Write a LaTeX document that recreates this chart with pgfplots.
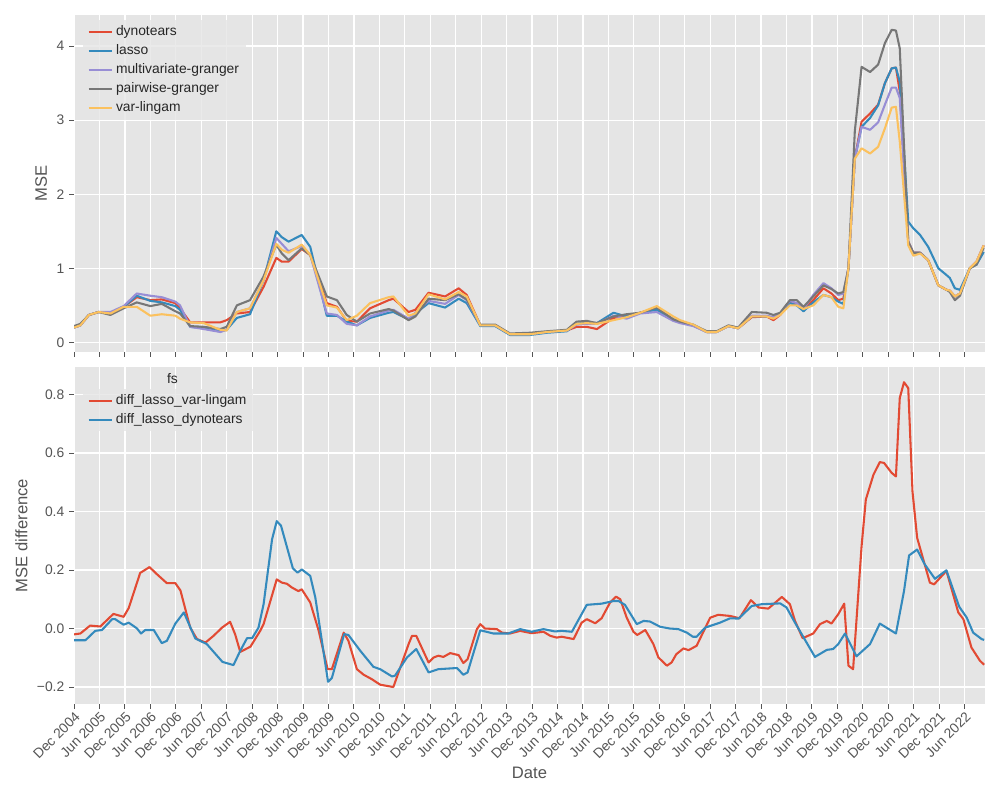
\documentclass[border=0pt]{standalone}
\usepackage{pgfplots}
\usepackage{pgfplotstable}
\pgfplotsset{compat=1.18}
\usepackage{fontspec}
\setmainfont{Liberation Sans}
\definecolor{cRed}{HTML}{E24A33}
\definecolor{cBlue}{HTML}{348ABD}
\definecolor{cPurple}{HTML}{988ED5}
\definecolor{cGray}{HTML}{777777}
\definecolor{cYellow}{HTML}{FBC15E}
\definecolor{ggbg}{HTML}{E5E5E5}
\definecolor{tk}{HTML}{555555}

\pgfplotstableread{
m red blue purple gray yellow
0 0.20 0.20 0.20 0.22 0.20
1.5 0.23 0.23 0.23 0.25 0.23
3.5 0.37 0.37 0.37 0.37 0.37
5.8 0.41 0.41 0.41 0.41 0.41
8.6 0.40 0.40 0.41 0.37 0.39
11.7 0.48 0.48 0.49 0.46 0.48
14.8 0.61 0.63 0.66 0.54 0.48
18 0.57 0.56 0.63 0.49 0.36
20.7 0.58 0.54 0.61 0.52 0.38
23.9 0.53 0.49 0.55 0.42 0.36
25 0.46 0.44 0.50 0.39 0.32
27.4 0.27 0.21 0.21 0.22 0.27
30.6 0.27 0.19 0.18 0.21 0.26
34.5 0.27 0.15 0.14 0.18 0.17
36 0.30 0.17 0.17 0.21 0.16
38.4 0.39 0.33 0.41 0.50 0.41
41.5 0.41 0.38 0.46 0.57 0.46
44.7 0.75 0.84 0.84 0.89 0.84
47.7 1.14 1.50 1.41 1.32 1.33
49 1.09 1.42 1.33 1.20 1.25
50.6 1.09 1.36 1.23 1.11 1.21
53.7 1.26 1.45 1.30 1.27 1.32
55.7 1.18 1.29 1.18 1.18 1.18
59.6 0.53 0.36 0.39 0.62 0.50
62 0.48 0.36 0.37 0.57 0.47
64.3 0.29 0.28 0.25 0.37 0.30
66.7 0.28 0.23 0.23 0.28 0.36
69.8 0.46 0.33 0.35 0.39 0.53
74.2 0.57 0.40 0.43 0.45 0.61
75.3 0.59 0.41 0.44 0.43 0.62
78.9 0.41 0.31 0.32 0.30 0.36
80.5 0.44 0.39 0.40 0.35 0.39
83.6 0.67 0.53 0.56 0.59 0.65
87.5 0.62 0.47 0.52 0.57 0.58
90.7 0.73 0.59 0.64 0.65 0.68
92.6 0.64 0.53 0.57 0.58 0.62
95.8 0.23 0.22 0.23 0.24 0.23
99.3 0.23 0.22 0.23 0.24 0.23
102.8 0.11 0.10 0.11 0.12 0.11
107.5 0.11 0.10 0.11 0.13 0.11
111.5 0.14 0.13 0.14 0.15 0.14
116.2 0.16 0.15 0.16 0.17 0.16
118.5 0.21 0.25 0.24 0.28 0.25
120.9 0.21 0.27 0.25 0.29 0.26
123.3 0.18 0.26 0.25 0.26 0.25
127.2 0.33 0.40 0.36 0.35 0.30
130.3 0.36 0.35 0.32 0.38 0.34
133.5 0.40 0.40 0.39 0.40 0.40
137.4 0.46 0.44 0.41 0.47 0.49
141.3 0.31 0.31 0.29 0.31 0.35
142.9 0.28 0.28 0.26 0.28 0.30
146 0.23 0.23 0.22 0.24 0.24
149.2 0.14 0.14 0.14 0.15 0.14
151.5 0.14 0.14 0.14 0.15 0.14
154.3 0.22 0.22 0.22 0.23 0.22
156.6 0.19 0.19 0.19 0.20 0.19
159.8 0.34 0.35 0.36 0.41 0.35
163.3 0.35 0.35 0.36 0.40 0.35
164.9 0.30 0.33 0.34 0.37 0.32
166.5 0.37 0.39 0.39 0.40 0.37
168.8 0.54 0.53 0.56 0.57 0.50
170.4 0.51 0.50 0.53 0.57 0.50
172 0.45 0.42 0.45 0.48 0.45
174.3 0.57 0.54 0.64 0.62 0.50
176.7 0.73 0.64 0.80 0.77 0.64
178.6 0.66 0.61 0.73 0.72 0.61
180.2 0.57 0.55 0.64 0.66 0.48
181.4 0.59 0.52 0.66 0.68 0.46
182.6 1.0 1.0 1.0 1.0 1.0
184.1 2.48 2.48 2.48 2.85 2.48
185.7 2.98 2.91 2.91 3.72 2.62
187.7 3.09 3.03 2.87 3.65 2.55
189.6 3.21 3.20 2.97 3.75 2.64
191.2 3.50 3.50 3.21 4.04 2.89
192.8 3.70 3.70 3.44 4.22 3.17
193.8 3.71 3.71 3.44 4.21 3.18
194.7 3.39 3.52 3.30 3.97 2.71
196.7 1.36 1.63 1.36 1.36 1.31
197.9 1.21 1.54 1.21 1.21 1.17
199.5 1.21 1.45 1.21 1.21 1.20
201.4 1.11 1.29 1.11 1.11 1.11
203.8 0.77 1.00 0.77 0.77 0.77
205.7 0.71 0.91 0.71 0.71 0.71
206.5 0.70 0.87 0.70 0.68 0.70
207.7 0.62 0.73 0.62 0.57 0.62
208.9 0.66 0.71 0.66 0.63 0.66
211.2 1.0 1.0 1.0 1.0 1.0
212.8 1.09 1.05 1.09 1.05 1.09
214.5 1.31 1.22 1.31 1.28 1.31
}\topdata

\pgfplotstableread{
m v
0 -0.02
1.5 -0.017
3.8 0.01
6.2 0.007
9.3 0.05
11.7 0.04
12.9 0.07
15.6 0.19
17.8 0.21
19.6 0.185
21.9 0.155
23.9 0.155
25.1 0.13
27.4 0.003
29 -0.036
31 -0.048
32.9 -0.025
34.9 0.003
36.8 0.023
38 -0.02
39.2 -0.08
41.6 -0.062
43.9 -0.008
44.7 0.015
47.8 0.168
49 0.157
50.2 0.153
51.4 0.14
52.9 0.128
53.7 0.134
55.7 0.089
57.7 -0.008
59.8 -0.139
60.8 -0.139
63.6 -0.014
64.7 -0.042
66.7 -0.139
68.3 -0.158
70.2 -0.173
72.2 -0.192
75.3 -0.2
78.9 -0.053
79.7 -0.025
80.7 -0.025
83.6 -0.116
84.8 -0.099
85.9 -0.093
87.1 -0.097
88.7 -0.084
90.7 -0.091
91.8 -0.118
92.8 -0.105
95 -0.002
95.8 0.015
96.9 0
99.7 -0.002
100.9 -0.014
102.8 -0.017
105.2 -0.008
107.9 -0.016
110.7 -0.011
112.3 -0.025
113.8 -0.031
115 -0.028
117.8 -0.036
119.7 0.02
120.9 0.032
122.9 0.018
124.4 0.035
126.4 0.089
127.8 0.109
128.8 0.1
130.3 0.038
131.9 -0.011
132.8 -0.022
134.7 -0.005
136.6 -0.053
137.8 -0.099
139.8 -0.127
140.9 -0.116
142 -0.088
143.7 -0.068
144.9 -0.074
146.8 -0.059
150 0.037
151.9 0.047
154.7 0.043
156.9 0.035
159.6 0.097
161.4 0.072
163.7 0.068
166.9 0.108
168.8 0.083
170 0.026
171.8 -0.033
174.3 -0.017
175.9 0.015
177.5 0.026
178.6 0.017
180.2 0.049
181.6 0.085
182.6 -0.127
183.7 -0.139
185.7 0.282
186.7 0.441
188.5 0.526
190 0.569
191 0.566
192.8 0.532
193.8 0.52
194.7 0.788
195.7 0.842
196.7 0.822
197.7 0.469
198.8 0.31
201.8 0.157
202.8 0.151
205.7 0.197
208.5 0.055
209.7 0.032
211.6 -0.065
213.6 -0.11
214.6 -0.124
}\redd

\pgfplotstableread{
m v
0 -0.04
1.5 -0.04
2.7 -0.04
5 -0.008
6.6 -0.005
9 0.032
9.7 0.032
11.7 0.013
12.9 0.02
14.8 0.001
15.8 -0.017
16.8 -0.005
18.8 -0.005
20.7 -0.05
21.9 -0.042
23.9 0.017
25.9 0.055
28.6 -0.034
31.3 -0.053
35 -0.114
37.6 -0.125
39.2 -0.076
40.8 -0.033
42 -0.033
43.5 0.003
44.7 0.083
46.7 0.305
47.8 0.367
48.8 0.352
51.6 0.206
52.7 0.191
53.7 0.202
55.7 0.18
56.9 0.106
59.9 -0.182
60.8 -0.169
63.7 -0.019
64.7 -0.022
67.5 -0.076
70.6 -0.131
72.2 -0.139
75 -0.164
75.7 -0.161
78.5 -0.099
80.7 -0.07
83.6 -0.15
85.9 -0.139
90.3 -0.135
91.8 -0.158
92.8 -0.15
95.8 -0.006
98.9 -0.017
102.4 -0.017
105.2 -0.002
107.9 -0.011
110.7 -0.002
113.4 -0.01
115 -0.008
117.4 -0.011
120.9 0.081
124.4 0.085
127.2 0.094
128.4 0.094
129.9 0.081
132.7 0.015
134.3 0.026
135.8 0.024
138.2 0.006
140.5 0
142.5 -0.002
144.5 -0.014
145.9 -0.028
146.8 -0.028
148.8 0.003
152.3 0.02
154.7 0.035
156.7 0.034
159.8 0.077
162.1 0.083
166.5 0.086
168 0.072
170 0.02
174.7 -0.097
177.5 -0.073
179 -0.07
180.2 -0.053
181.8 -0.017
184.5 -0.095
187.7 -0.053
190 0.017
193.8 -0.017
195.7 0.128
196.9 0.25
198.8 0.27
200.6 0.219
203 0.17
205.7 0.199
208.7 0.075
210.5 0.037
212 -0.014
214 -0.036
214.6 -0.039
}\blued

\pgfplotsset{
  gg/.style={
    width=9.11in, height=3.37in, scale only axis,
    xmin=0, xmax=214.8,
    axis background/.style={fill=ggbg},
    axis line style={draw=none},
    grid=major, major grid style={white, line width=0.9pt},
    tick style={tk, line width=0.7pt}, major tick length=3.5pt,
    tick align=outside, xtick pos=bottom, ytick pos=left,
    ticklabel style={font=\fontsize{10}{12}\selectfont, text=tk},
    label style={font=\fontsize{12}{14}\selectfont, text=tk},
    xtick={0,6,...,210},
    legend style={draw=none, fill=ggbg, fill opacity=0.8, text opacity=1, font=\fontsize{10}{12}\selectfont, text=black!85, at={(0.01,0.985)}, anchor=north west, row sep=1pt},
    legend cell align=left,
    legend image post style={line width=1.5pt},
    every axis plot/.append style={line width=1.5pt, line join=round},
    /pgf/number format/assume math mode=true,
  }
}

\begin{document}
\begin{tikzpicture}
\useasboundingbox (0,0) rectangle (10in,-8in);
\begin{axis}[gg, at={(0.74in,-0.15in)}, anchor=north west,
  ymin=-0.13, ymax=4.42, ytick={0,1,2,3,4}, xticklabels={},
  ylabel={MSE}]
\addplot[cRed] table[x=m,y=red]{\topdata}; \addlegendentry{dynotears}
\addplot[cBlue] table[x=m,y=blue]{\topdata}; \addlegendentry{lasso}
\addplot[cPurple] table[x=m,y=purple]{\topdata}; \addlegendentry{multivariate-granger}
\addplot[cGray] table[x=m,y=gray]{\topdata}; \addlegendentry{pairwise-granger}
\addplot[cYellow] table[x=m,y=yellow]{\topdata}; \addlegendentry{var-lingam}
\end{axis}
\begin{axis}[gg, at={(0.74in,-3.67in)}, anchor=north west,
  ymin=-0.258, ymax=0.894, ytick={-0.2,0,0.2,0.4,0.6,0.8},
  yticklabels={−0.2,0.0,0.2,0.4,0.6,0.8},
  xticklabels={Dec 2004,Jun 2005,Dec 2005,Jun 2006,Dec 2006,Jun 2007,Dec 2007,Jun 2008,Dec 2008,Jun 2009,Dec 2009,Jun 2010,Dec 2010,Jun 2011,Dec 2011,Jun 2012,Dec 2012,Jun 2013,Dec 2013,Jun 2014,Dec 2014,Jun 2015,Dec 2015,Jun 2016,Dec 2016,Jun 2017,Dec 2017,Jun 2018,Dec 2018,Jun 2019,Dec 2019,Jun 2020,Dec 2020,Jun 2021,Dec 2021,Jun 2022},
  xticklabel style={rotate=45, anchor=north east, inner sep=1pt},
  xlabel={Date}, ylabel={MSE difference},
  legend style={at={(0.01,0.935)}}]
\addplot[cRed] table[x=m,y=v]{\redd}; \addlegendentry{diff\_lasso\_var-lingam}
\addplot[cBlue] table[x=m,y=v]{\blued}; \addlegendentry{diff\_lasso\_dynotears}
\node[font=\fontsize{10}{12}\selectfont, text=black!85] at (axis description cs:0.108,0.965) {fs};
\end{axis}
\end{tikzpicture}
\end{document}
